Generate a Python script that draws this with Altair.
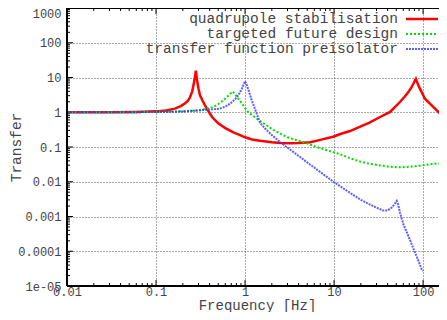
import altair as alt
import pandas as pd

# ---- data ----
SERIES = ["quadrupole stabilisation", "targeted future design", "transfer function preisolator"]

QUAD_F = [0.01, 0.03, 0.06, 0.1, 0.13, 0.163, 0.19, 0.212, 0.23, 0.241, 0.255, 0.265, 0.275, 0.28,
          0.29, 0.30, 0.312, 0.335, 0.355, 0.39, 0.426, 0.5, 0.6, 0.75, 0.88, 1.0, 1.2, 1.47, 2.0,
          2.5, 3.2, 4.0, 5.4, 7.0, 9.75, 12, 15.1, 20, 25, 32.9, 42.6, 55, 62, 68.4, 74, 77.8, 81,
          83, 86, 92.5, 105, 125, 155]
QUAD_V = [1.0, 1.0, 1.02, 1.06, 1.13, 1.27, 1.5, 1.8, 2.2, 2.7, 4.0, 6.5, 11, 15.8,
          8.0, 4.8, 3.05, 2.1, 1.58, 1.05, 0.73, 0.48, 0.35, 0.26, 0.22, 0.19, 0.165, 0.152, 0.137,
          0.13, 0.128, 0.13, 0.137, 0.16, 0.198, 0.24, 0.288, 0.39, 0.5, 0.73, 1.02, 1.97, 2.8, 3.8,
          5.2, 6.6, 8.2, 9.1, 7.2, 4.7, 2.45, 1.58, 0.92]

TARGET_F = [0.01, 0.05, 0.1, 0.2, 0.312, 0.44, 0.5, 0.57, 0.65, 0.73, 0.78, 0.84, 0.9, 0.957,
            1.04, 1.1, 1.35, 1.47, 2.08, 3.0, 4.93, 7.0, 11.7, 15, 19.6, 25, 32.9, 42, 55, 70,
            92.5, 120, 155]
TARGET_V = [1.0, 1.0, 1.02, 1.07, 1.14, 1.42, 1.7, 2.2, 3.0, 3.96, 3.2, 2.45, 1.95, 1.58,
            1.15, 0.98, 0.66, 0.565, 0.31, 0.19, 0.128, 0.092, 0.062, 0.048, 0.038, 0.033, 0.0295,
            0.027, 0.026, 0.027, 0.029, 0.032, 0.034]

PRE_F = [0.01, 0.1, 0.2, 0.312, 0.52, 0.6, 0.68, 0.75, 0.81, 0.87, 0.92, 0.96, 1.0, 1.04, 1.09,
         1.19, 1.3, 1.47, 1.7, 2.0, 2.47, 3.2, 5, 7, 10, 15.1, 20, 25.4, 30, 35.8, 40, 44.4, 48,
         50.6, 52.5, 55, 60, 65.7, 72, 77.8, 87, 96.6, 100]
PRE_V = [1.0, 1.01, 1.05, 1.14, 1.27, 1.45, 1.77, 2.2, 2.7, 3.6, 4.7, 6.2, 7.8, 6.3, 4.5,
         2.2, 1.2, 0.5, 0.33, 0.22, 0.14, 0.085, 0.036, 0.019, 0.0097, 0.0048, 0.003, 0.0022,
         0.0018, 0.00148, 0.0015, 0.0018, 0.0023, 0.0028, 0.0022, 0.0013, 0.0006, 0.00035,
         0.0002, 0.00012, 0.00006, 0.00003, 0.000027]

X_TICKS = [0.01, 0.1, 1, 10, 100]
X_LABELS = ["0.01", "0.1", "1", "10", "100"]
Y_TICKS = [1000, 100, 10, 1, 0.1, 0.01, 0.001, 0.0001, 0.00001]
Y_LABELS = ["1000", "100", "10", "1", "0.1", "0.01", "0.001", "0.0001", "1e-05"]

# ---- layout / style ----
W, H = 372, 278
XDOM = [0.01, 151]
YDOM = [0.00001, 1000]
FONT = "Liberation Mono"
TXT = "#444444"

STYLES = [
    dict(color="#ff0000", strokeWidth=2.5),
    dict(color="#00dd00", strokeWidth=2, strokeDash=[2, 2]),
    dict(color="#3535ff", strokeWidth=2, strokeDash=[2, 1], opacity=0.8),
]
LEG_Y = [11, 26, 41]


def label_expr(ticks, labels):
    pairs = sorted(zip(ticks, labels), key=lambda p: -p[0])
    expr = f"'{pairs[-1][1]}'"
    for t, l in reversed(pairs[:-1]):
        expr = f"datum.value > {t * 0.5!r} ? '{l}' : " + expr
    return expr


xscale = alt.Scale(type="log", domain=XDOM, nice=False)
yscale = alt.Scale(type="log", domain=YDOM, nice=False)

xaxis = alt.Axis(values=X_TICKS, labelExpr=label_expr(X_TICKS, X_LABELS), grid=True,
                 gridDash=[1, 2], gridColor="#555555", gridWidth=1, ticks=False, domain=False,
                 labelFont=FONT, labelFontSize=12, labelColor=TXT, labelPadding=0,
                 labelFlush=False, title="Frequency [Hz]", titleFont=FONT, titleFontSize=14,
                 titleFontWeight="normal", titleColor=TXT, titleX=190, titleY=19,
                 titleAlign="center", titleBaseline="middle")
yaxis = alt.Axis(values=Y_TICKS, labelExpr=label_expr(Y_TICKS, Y_LABELS), grid=True,
                 gridDash=[1, 2], gridColor="#555555", gridWidth=1, ticks=False, domain=False,
                 labelFont=FONT, labelFontSize=12, labelColor=TXT, labelPadding=6,
                 labelFlush=False,
                 labelBaseline={"condition": {"test": "datum.value > 500", "value": "top"},
                                "value": "middle"},
                 title="Transfer", titleFont=FONT, titleFontSize=14.5,
                 titleFontWeight="normal", titleColor=TXT, titleX=-51, titleY=H / 2,
                 titleAngle=-90, titleAlign="center", titleBaseline="middle")

layers = []
base_df = pd.DataFrame({"f": [0.01], "v": [1.0]})
layers.append(alt.Chart(base_df).mark_point(opacity=0).encode(
    x=alt.X("f:Q", scale=xscale, axis=xaxis),
    y=alt.Y("v:Q", scale=yscale, axis=yaxis)))

# minor / major ticks (inward, gnuplot style)
minor_x = [m * 10.0 ** e for e in range(-2, 3) for m in range(2, 10) if m * 10.0 ** e < XDOM[1]]
minor_y = [m * 10.0 ** e for e in range(-5, 3) for m in range(2, 10)]
tdf_x = pd.DataFrame({"t": X_TICKS})
tdf_xm = pd.DataFrame({"t": minor_x})
tdf_y = pd.DataFrame({"t": Y_TICKS})
tdf_ym = pd.DataFrame({"t": minor_y})
for df, ln in [(tdf_x, 6), (tdf_xm, 3)]:
    layers.append(alt.Chart(df).mark_rule(color="black", strokeWidth=1).encode(
        x=alt.X("t:Q", scale=xscale), y=alt.value(H), y2=alt.value(H - ln)))
    layers.append(alt.Chart(df).mark_rule(color="black", strokeWidth=1).encode(
        x=alt.X("t:Q", scale=xscale), y=alt.value(0), y2=alt.value(ln)))
for df, ln in [(tdf_y, 6), (tdf_ym, 3)]:
    layers.append(alt.Chart(df).mark_rule(color="black", strokeWidth=1).encode(
        y=alt.Y("t:Q", scale=yscale), x=alt.value(0), x2=alt.value(ln)))

for name, fs, vs, st, ly in zip(SERIES, [QUAD_F, TARGET_F, PRE_F], [QUAD_V, TARGET_V, PRE_V],
                                STYLES, LEG_Y):
    df = pd.DataFrame({"f": fs, "v": vs, "series": name})
    layers.append(alt.Chart(df).mark_line(clip=True, **st).encode(
        x=alt.X("f:Q", scale=xscale), y=alt.Y("v:Q", scale=yscale), order="f:Q"))
    ldf = pd.DataFrame({"series": [name]})
    layers.append(alt.Chart(ldf).mark_text(align="right", baseline="middle", font=FONT,
                                           fontSize=14.5, color=TXT).encode(
        text="series:N", x=alt.value(331), y=alt.value(ly)))
    layers.append(alt.Chart(ldf).mark_rule(**st).encode(
        x=alt.value(339), x2=alt.value(371), y=alt.value(ly)))

# frame: left, top, bottom (right side is cut off in the reference)
frame_df = pd.DataFrame({"k": ["frame"]})
layers.append(alt.Chart(frame_df).mark_rule(color="black", strokeWidth=2).encode(
    x=alt.value(0), y=alt.value(0), y2=alt.value(H)))
layers.append(alt.Chart(frame_df).mark_rule(color="black", strokeWidth=2).encode(
    x=alt.value(0), x2=alt.value(W), y=alt.value(0)))
layers.append(alt.Chart(frame_df).mark_rule(color="black", strokeWidth=2).encode(
    x=alt.value(0), x2=alt.value(W), y=alt.value(H)))

chart = alt.layer(*layers).properties(
    width=W, height=H,
    autosize=alt.AutoSizeParams(type="none"),
    padding={"left": 59, "top": 0, "right": 0, "bottom": 26},
).configure_view(stroke=None)

chart.save("out.html", embed_options={"renderer": "svg", "actions": False})
